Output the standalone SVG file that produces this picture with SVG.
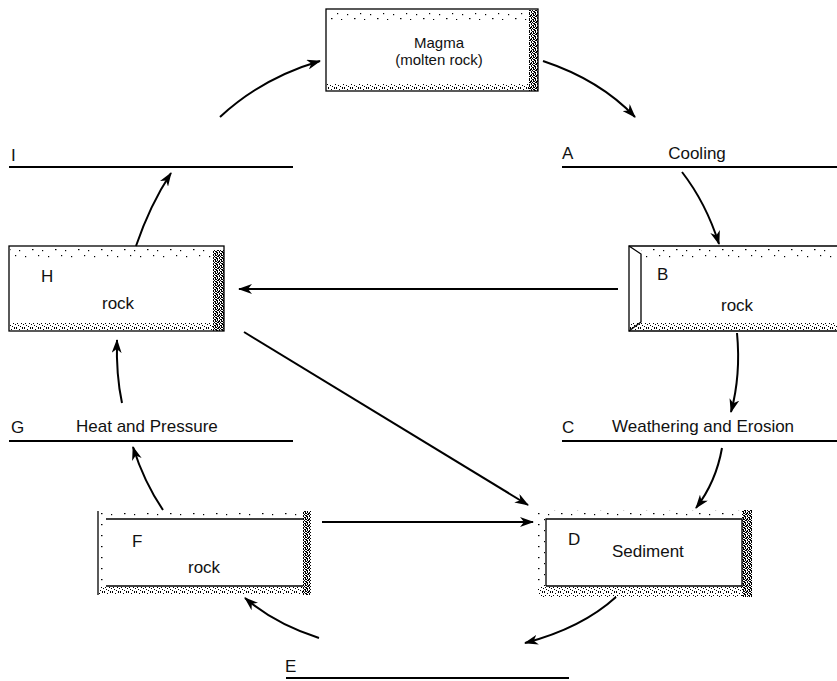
<svg xmlns="http://www.w3.org/2000/svg" width="837" height="681" viewBox="0 0 837 681">
<style>
text{font-family:"Liberation Sans",Arial,sans-serif;fill:#111}
.lbl{font-size:17px}
.bl{stroke:#000;stroke-width:2.2;fill:none}
.ol{stroke:#000;stroke-width:1.3;fill:none}
.arr{stroke:#000;stroke-width:2;fill:none;marker-end:url(#ah)}
</style>
<defs>
<marker id="ah" viewBox="0 0 14 10" refX="13" refY="5" markerWidth="14" markerHeight="10" markerUnits="userSpaceOnUse" orient="auto">
<path d="M0,0 L14,5 L0,10 L4,5 z" fill="#000"/>
</marker>
<pattern id="sp" width="23" height="11" patternUnits="userSpaceOnUse">
<rect x="2" y="3" width="1.2" height="1.2"/><rect x="9" y="7" width="1.5" height="1.2"/><rect x="15" y="2" width="1.2" height="1.2"/><rect x="19" y="8" width="1.2" height="1.2"/>
</pattern>
<pattern id="md" width="8" height="8" patternUnits="userSpaceOnUse">
<rect x="0" y="0" width="1" height="1"/><rect x="3" y="1" width="1" height="1"/><rect x="6" y="0" width="1" height="1"/><rect x="1" y="3" width="1" height="1"/><rect x="5" y="3" width="1" height="1"/><rect x="7" y="4" width="1" height="1"/><rect x="2" y="5" width="1" height="1"/><rect x="4" y="6" width="1" height="1"/><rect x="0" y="7" width="1" height="1"/><rect x="6" y="7" width="1" height="1"/>
</pattern>
<pattern id="dn" width="6" height="6" patternUnits="userSpaceOnUse">
<rect x="0" y="0" width="2" height="1"/><rect x="3" y="0" width="1" height="1"/><rect x="4" y="1" width="2" height="1"/><rect x="1" y="1" width="1" height="2"/><rect x="3" y="2" width="1" height="1"/><rect x="5" y="2" width="1" height="2"/><rect x="0" y="3" width="1" height="1"/><rect x="2" y="3" width="2" height="1"/><rect x="4" y="4" width="1" height="1"/><rect x="1" y="4" width="2" height="1"/><rect x="5" y="5" width="1" height="1"/><rect x="3" y="5" width="1" height="1"/><rect x="0" y="5" width="1" height="1"/>
</pattern>
</defs>
<rect width="837" height="681" fill="#fff"/>

<g id="magma">
<rect x="327" y="10" width="202" height="10" fill="url(#sp)"/>
<rect x="529" y="10" width="9" height="81" fill="url(#dn)"/>
<rect x="327" y="84" width="202" height="7" fill="url(#md)"/>
<rect x="326" y="9" width="212" height="82" class="ol"/>
<text x="439" y="48" text-anchor="middle" style="font-size:15px">Magma</text>
<text x="439" y="65" text-anchor="middle" style="font-size:15px">(molten rock)</text>
</g>

<g id="blankI">
<line x1="9" y1="167" x2="293" y2="167" class="bl"/>
<text x="11" y="161" class="lbl">I</text>
</g>
<g id="blankA">
<line x1="562" y1="167" x2="837" y2="167" class="bl"/>
<text x="562" y="159" class="lbl">A</text>
<text x="697" y="159" class="lbl" text-anchor="middle">Cooling</text>
</g>

<g id="boxH">
<rect x="10" y="247" width="203" height="11" fill="url(#sp)"/>
<rect x="213" y="250" width="11" height="81" fill="url(#dn)"/>
<rect x="10" y="322" width="203" height="9" fill="url(#md)"/>
<rect x="9" y="246" width="215" height="85" class="ol"/>
<text x="41" y="282" class="lbl">H</text>
<text x="102" y="309" class="lbl">rock</text>
</g>

<g id="boxB">
<rect x="641" y="247" width="196" height="11" fill="url(#sp)"/>
<rect x="630" y="322" width="207" height="9" fill="url(#md)"/>
<path d="M837,246 H629 V331 H837" class="ol"/>
<path d="M629,246 L641,254 V322 L629,331" class="ol"/>
<text x="657" y="280" class="lbl">B</text>
<text x="721" y="311" class="lbl">rock</text>
</g>

<g id="blankG">
<line x1="9" y1="441" x2="293" y2="441" class="bl"/>
<text x="11" y="433" class="lbl">G</text>
<text x="76" y="432" class="lbl">Heat and Pressure</text>
</g>
<g id="blankC">
<line x1="562" y1="441" x2="837" y2="441" class="bl"/>
<text x="562" y="433" class="lbl">C</text>
<text x="612" y="432" class="lbl">Weathering and Erosion</text>
</g>

<g id="boxF">
<rect x="99" y="511" width="204" height="8" fill="url(#sp)"/>
<rect x="99" y="519" width="8" height="67" fill="url(#sp)"/>
<rect x="303" y="511" width="8" height="84" fill="url(#dn)"/>
<rect x="99" y="586" width="204" height="9" fill="url(#md)"/>
<line x1="98" y1="511" x2="98" y2="595" class="ol"/>
<line x1="106" y1="519" x2="303" y2="519" class="ol"/>
<line x1="106" y1="586" x2="303" y2="586" class="ol"/>
<text x="132" y="547" class="lbl">F</text>
<text x="188" y="573" class="lbl">rock</text>
</g>

<g id="boxD">
<rect x="536" y="510" width="206" height="9" fill="url(#sp)"/>
<rect x="536" y="519" width="9" height="67" fill="url(#sp)"/>
<rect x="742" y="510" width="10" height="87" fill="url(#dn)"/>
<rect x="538" y="586" width="204" height="11" fill="url(#md)"/>
<path d="M546,586 V519 H742 V586 H546" class="ol"/>
<text x="568" y="545" class="lbl">D</text>
<text x="612" y="557" class="lbl">Sediment</text>
</g>

<g id="blankE">
<line x1="286" y1="678" x2="569" y2="678" class="bl"/>
<text x="285" y="672" class="lbl">E</text>
</g>

<g id="connectors">
<path class="arr" d="M220,117 Q262,78 320,61"/>
<path class="arr" d="M543,61 Q600,80 635,117"/>
<path class="arr" d="M682,172 Q706,203 719,244"/>
<path class="arr" d="M618,289 L239,289"/>
<path class="arr" d="M136,246 Q150,205 171,173"/>
<path class="arr" d="M122,403 Q116,375 117,340"/>
<path class="arr" d="M737,333 Q741,375 731,412"/>
<path class="arr" d="M244,332 L528,505"/>
<path class="arr" d="M722,448 Q716,482 696,508"/>
<path class="arr" d="M322,522 L533,522"/>
<path class="arr" d="M616,597 Q582,628 525,643"/>
<path class="arr" d="M319,638 Q275,624 245,598"/>
<path class="arr" d="M163,510 Q144,482 133,447"/>
</g>
</svg>
